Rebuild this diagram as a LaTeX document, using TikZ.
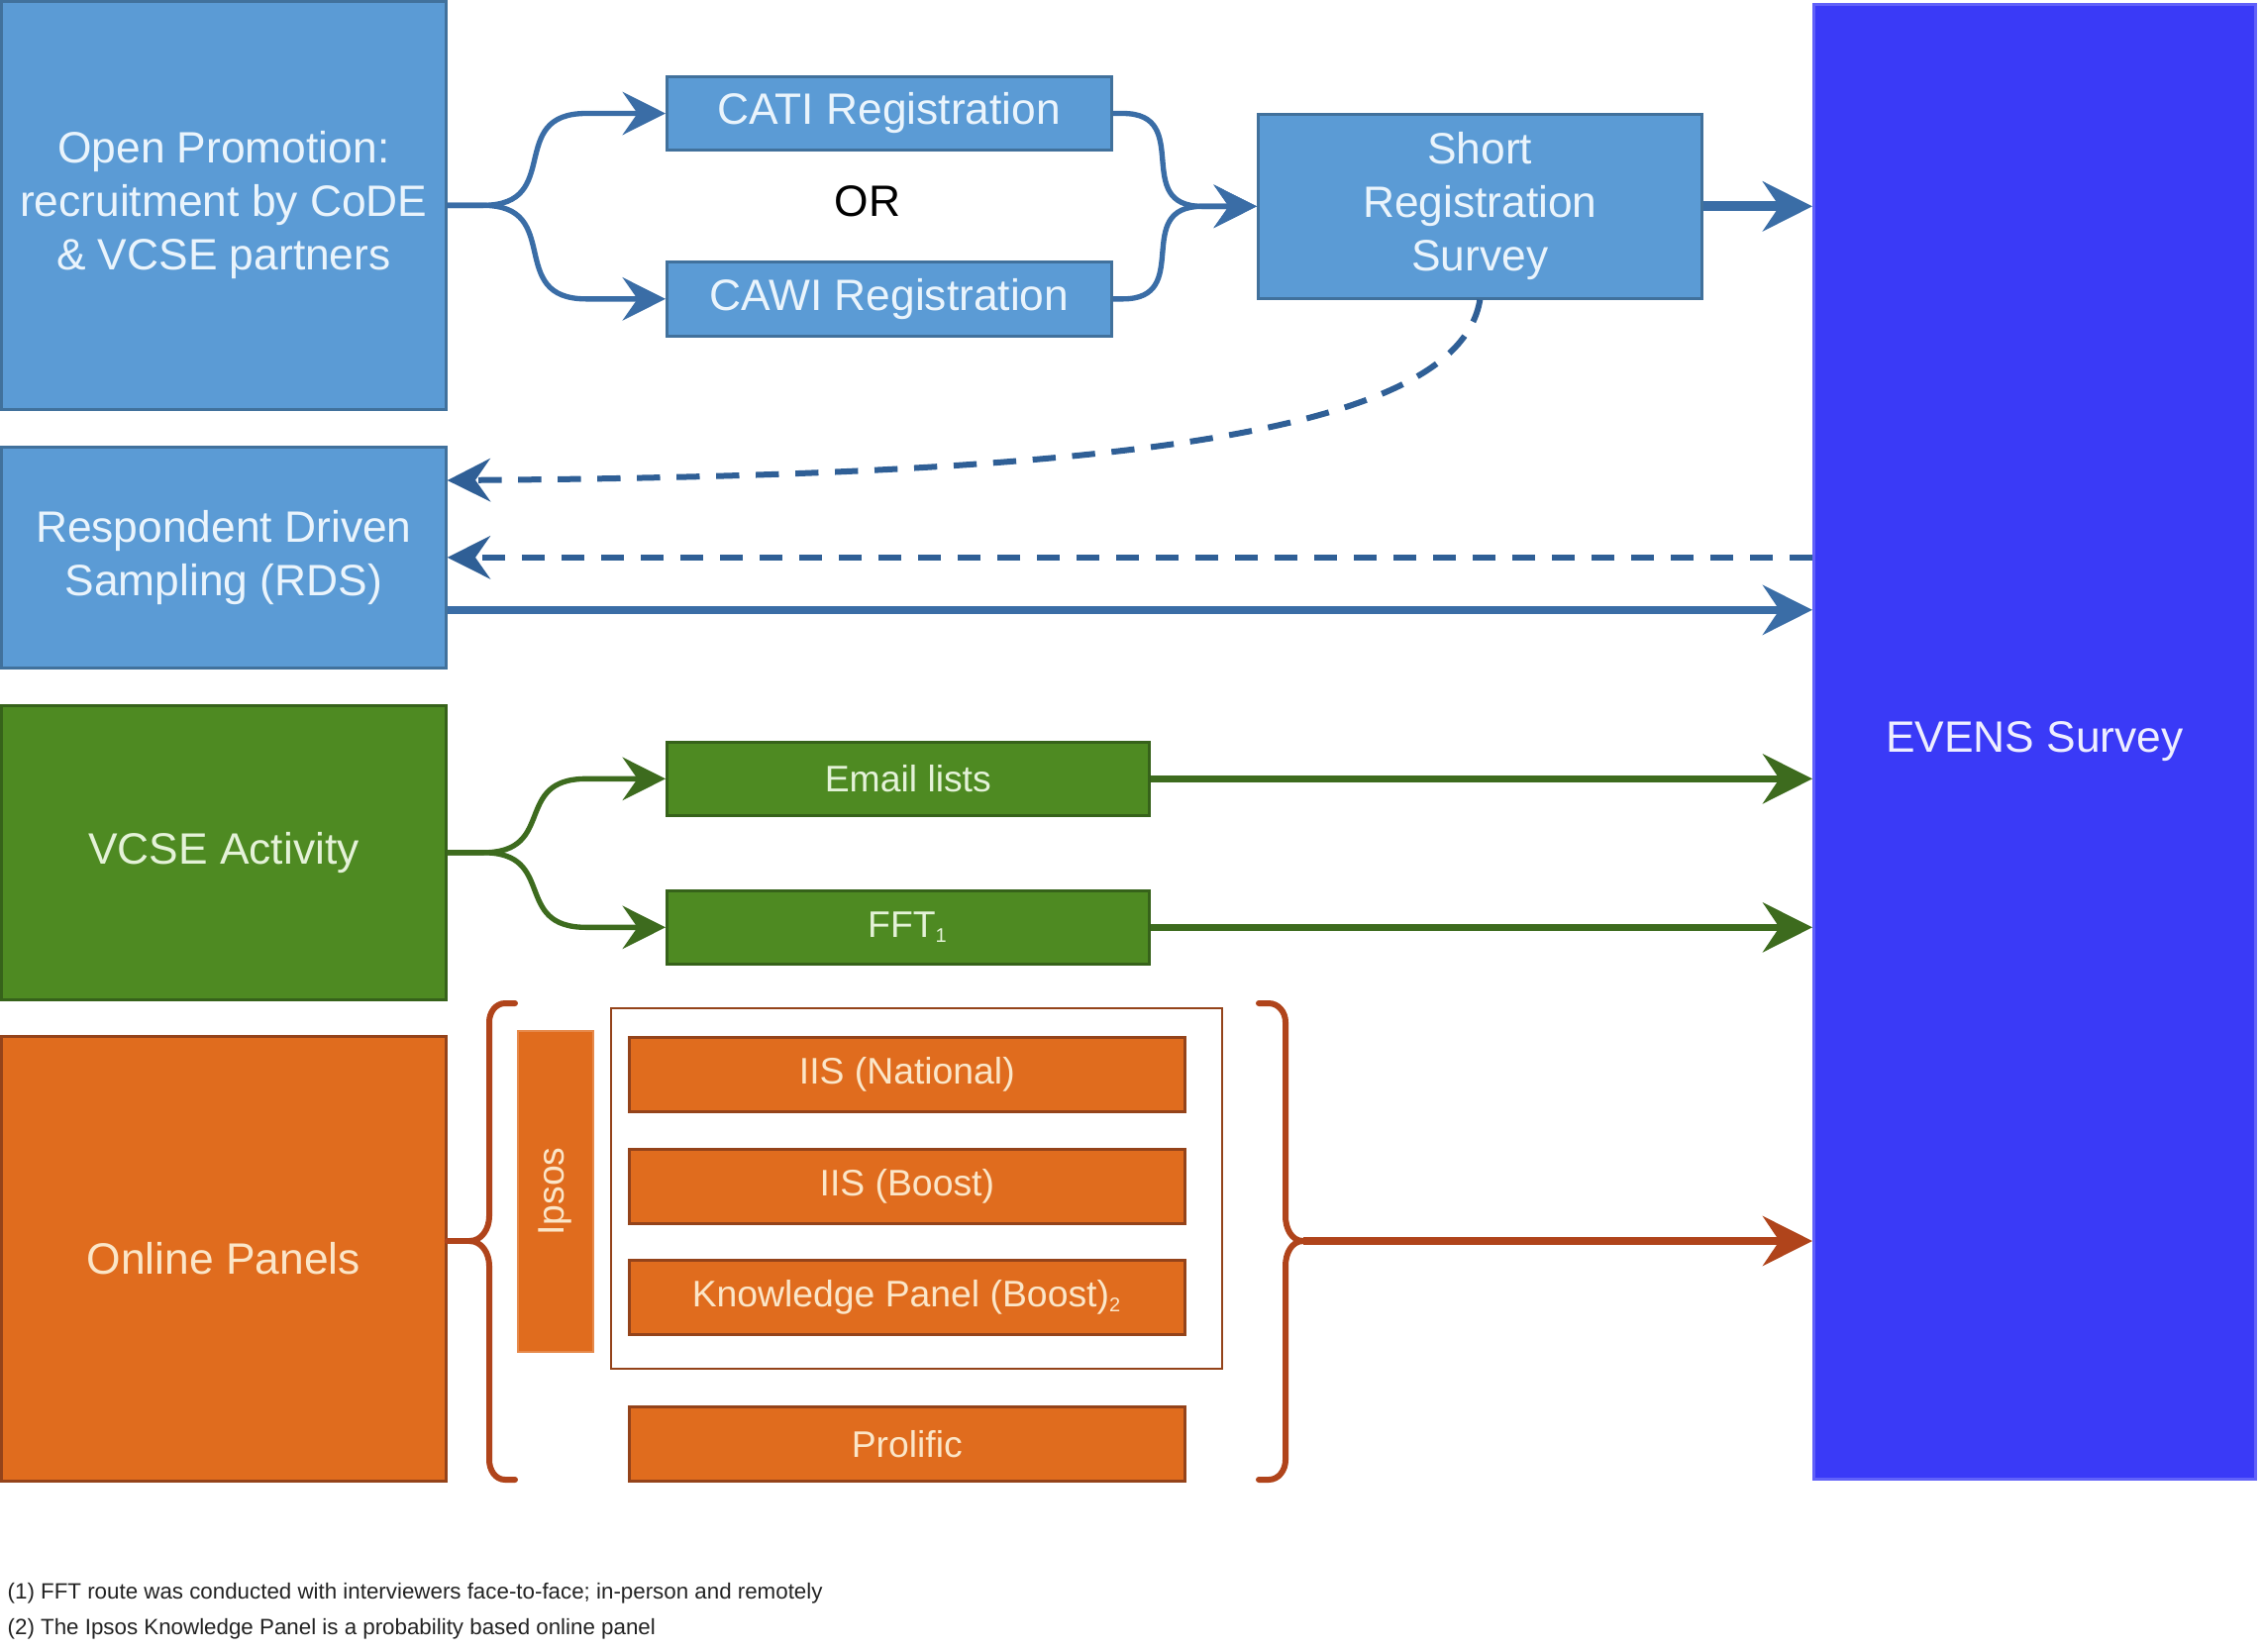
\documentclass[tikz,border=0pt]{standalone}
\usepackage{fontspec}
\setmainfont{Liberation Sans}
\usetikzlibrary{arrows.meta,calc}
\definecolor{bfill}{HTML}{5B9BD5}
\definecolor{bline}{HTML}{41719C}
\definecolor{barrow}{HTML}{3A6DA6}
\definecolor{bdash}{HTML}{2F5F96}
\definecolor{efill}{HTML}{3A3AF7}
\definecolor{gfill}{HTML}{4E8A22}
\definecolor{gline}{HTML}{36621A}
\definecolor{garrow}{HTML}{3D6B1E}
\definecolor{ofill}{HTML}{E06C1E}
\definecolor{oline}{HTML}{94431A}
\definecolor{oarrow}{HTML}{B0441B}
\definecolor{btext}{HTML}{EAF4FC}
\definecolor{gtext}{HTML}{E4F2D8}
\definecolor{otext}{HTML}{FBE6C8}
\definecolor{etext}{HTML}{EEEEFF}
\definecolor{ftext}{HTML}{222222}
\newcommand{\tinysub}[1]{\textsubscript{\fontsize{6}{6}\selectfont #1}}
\tikzset{
  box/.style={rectangle, draw, line width=0.8pt, inner sep=2pt, align=center, anchor=north west},
  bigfont/.style={font=\fontsize{13.3}{16.2}\selectfont},
  smallfont/.style={font=\fontsize{11.2}{13}\selectfont},
  bluebox/.style={box, fill=bfill, draw=bline, text=btext, bigfont},
  greenbox/.style={box, fill=gfill, draw=gline, text=gtext},
  orangebox/.style={box, fill=ofill, draw=oline, text=otext},
  smalltip/.style={-{Stealth[length=13pt,width=13pt,inset=4.5pt]}},
  bigtip/.style={-{Stealth[length=15pt,width=15pt,inset=5pt]}},
  bconn/.style={draw=barrow, line width=1.6pt, smalltip},
  gconn/.style={draw=garrow, line width=1.6pt, smalltip},
  dconn/.style={draw=bdash, line width=1.8pt, dash pattern=on 7pt off 5pt, smalltip},
  brace/.style={draw=oarrow, line width=1.8pt, line cap=round}
}
\begin{document}
\begin{tikzpicture}[x=0.3pt,y=-0.3pt]
\useasboundingbox (0,0) rectangle (2285,1667);
% blue boxes
\node[bluebox, minimum width=134.7pt, minimum height=123.6pt] (OP) at (0,0) {Open Promotion:\\recruitment by CoDE\\\& VCSE partners};
\node[bluebox, minimum width=134.7pt, minimum height=22.3pt] (CATI) at (672,76) {CATI Registration};
\node[bluebox, minimum width=134.7pt, minimum height=22.5pt] (CAWI) at (672,263) {CAWI Registration};
\node[bigfont, text=black] (OR) at (876,203) {OR};
\node[bluebox, minimum width=134.4pt, minimum height=55.8pt] (Short) at (1269,114) {Short\\Registration\\Survey};
\node[box, fill=efill, draw=efill!80!white, text=etext, bigfont, minimum width=133.8pt, minimum height=446.7pt] (EVENS) at (1830,3) {EVENS Survey};
\node[bluebox, minimum width=134.7pt, minimum height=66.9pt] (RDS) at (0,450) {Respondent Driven\\Sampling (RDS)};
% green
\node[greenbox, bigfont, minimum width=134.7pt, minimum height=89.1pt] (VCSE) at (0,711) {VCSE Activity};
\node[greenbox, smallfont, minimum width=146.1pt, minimum height=22.2pt] (Email) at (672,748) {Email lists};
\node[greenbox, smallfont, minimum width=146.1pt, minimum height=22.2pt] (FFT) at (672,898) {FFT\tinysub{1}};
% orange
\node[orangebox, bigfont, minimum width=134.7pt, minimum height=134.7pt] (OPan) at (0,1045) {Online Panels};
\node[box, draw=oline, line width=0.7pt, fill=white, minimum width=185.1pt, minimum height=109.2pt] (IpsGroup) at (616,1017) {};
\node[orangebox, smallfont, draw=ofill!80!white, anchor=center, rotate=90, minimum width=97.2pt, minimum height=22.8pt] (Ipsos) at (561,1203) {Ipsos};
\node[orangebox, smallfont, minimum width=168.3pt, minimum height=22.5pt] (IISN) at (634,1046) {IIS (National)};
\node[orangebox, smallfont, minimum width=168.3pt, minimum height=22.5pt] (IISB) at (634,1159) {IIS (Boost)};
\node[orangebox, smallfont, minimum width=168.3pt, minimum height=22.5pt] (KP) at (634,1271) {Knowledge Panel (Boost)\tinysub{2}};
\node[orangebox, smallfont, minimum width=168.3pt, minimum height=22.5pt] (Prol) at (634,1419) {Prolific};
% footnotes
\node[anchor=west, text=ftext, font=\fontsize{6.7}{8}\selectfont, inner sep=0pt] (fn1) at (7,1609) {(1) FFT route was conducted with interviewers face-to-face; in-person and remotely};
\node[anchor=west, text=ftext, font=\fontsize{6.7}{8}\selectfont, inner sep=0pt] (fn2) at (7,1645) {(2) The Ipsos Knowledge Panel is a probability based online panel};
% blue connectors
\draw[bconn] (OP.east) -- ++(36,0) to[out=0,in=180,looseness=1.5] ($(CATI.west)+(-80,0)$) -- (CATI.west);
\draw[bconn] (OP.east) -- ++(36,0) to[out=0,in=180,looseness=1.5] ($(CAWI.west)+(-80,0)$) -- (CAWI.west);
\draw[bconn] (CATI.east) -- ++(10,0) to[out=0,in=180,looseness=1.5] ($(Short.west)+(-55,0)$) -- (Short.west);
\draw[bconn] (CAWI.east) -- ++(10,0) to[out=0,in=180,looseness=1.5] ($(Short.west)+(-55,0)$) -- (Short.west);
\draw[draw=barrow, line width=3pt, bigtip] (Short.east) -- (Short.east -| EVENS.west);
\draw[dconn] (Short.south) .. controls ($(Short.south)+(-23,140)$) and (1100,480) .. ($(RDS.north east)+(0,35)$);
\draw[dconn] (EVENS.west |- RDS.east) -- (RDS.east);
\draw[draw=barrow, line width=2.2pt, bigtip] ($(RDS.east)+(0,53)$) -- ($(RDS.east -| EVENS.west)+(0,53)$);
% green connectors
\draw[gconn] (VCSE.east) -- ++(36,0) to[out=0,in=180,looseness=1.5] ($(Email.west)+(-80,0)$) -- (Email.west);
\draw[gconn] (VCSE.east) -- ++(36,0) to[out=0,in=180,looseness=1.5] ($(FFT.west)+(-80,0)$) -- (FFT.west);
\draw[draw=garrow, line width=2pt, bigtip] (Email.east) -- (Email.east -| EVENS.west);
\draw[draw=garrow, line width=2pt, bigtip] (FFT.east) -- (FFT.east -| EVENS.west);
% braces
\coordinate (lbtip) at (474,1253);
\coordinate (rbtip) at (1316,1253);
\draw[brace] (520,1013) -- (510,1013) to[out=180,in=90] (494,1032) -- (494,1228) to[out=-90,in=0] (lbtip) to[out=0,in=90] (494,1278) -- (494,1474) to[out=-90,in=180] (510,1494) -- (520,1494);
\draw[brace] (OPan.east |- lbtip) -- (lbtip);
\draw[brace] (1271,1013) -- (1281,1013) to[out=0,in=90] (1298,1032) -- (1298,1228) to[out=-90,in=180] (rbtip) to[out=180,in=90] (1298,1278) -- (1298,1474) to[out=-90,in=0] (1281,1494) -- (1271,1494);
\draw[draw=oarrow, line width=2.2pt, bigtip] (rbtip) -- (rbtip -| EVENS.west);
\end{tikzpicture}
\end{document}
